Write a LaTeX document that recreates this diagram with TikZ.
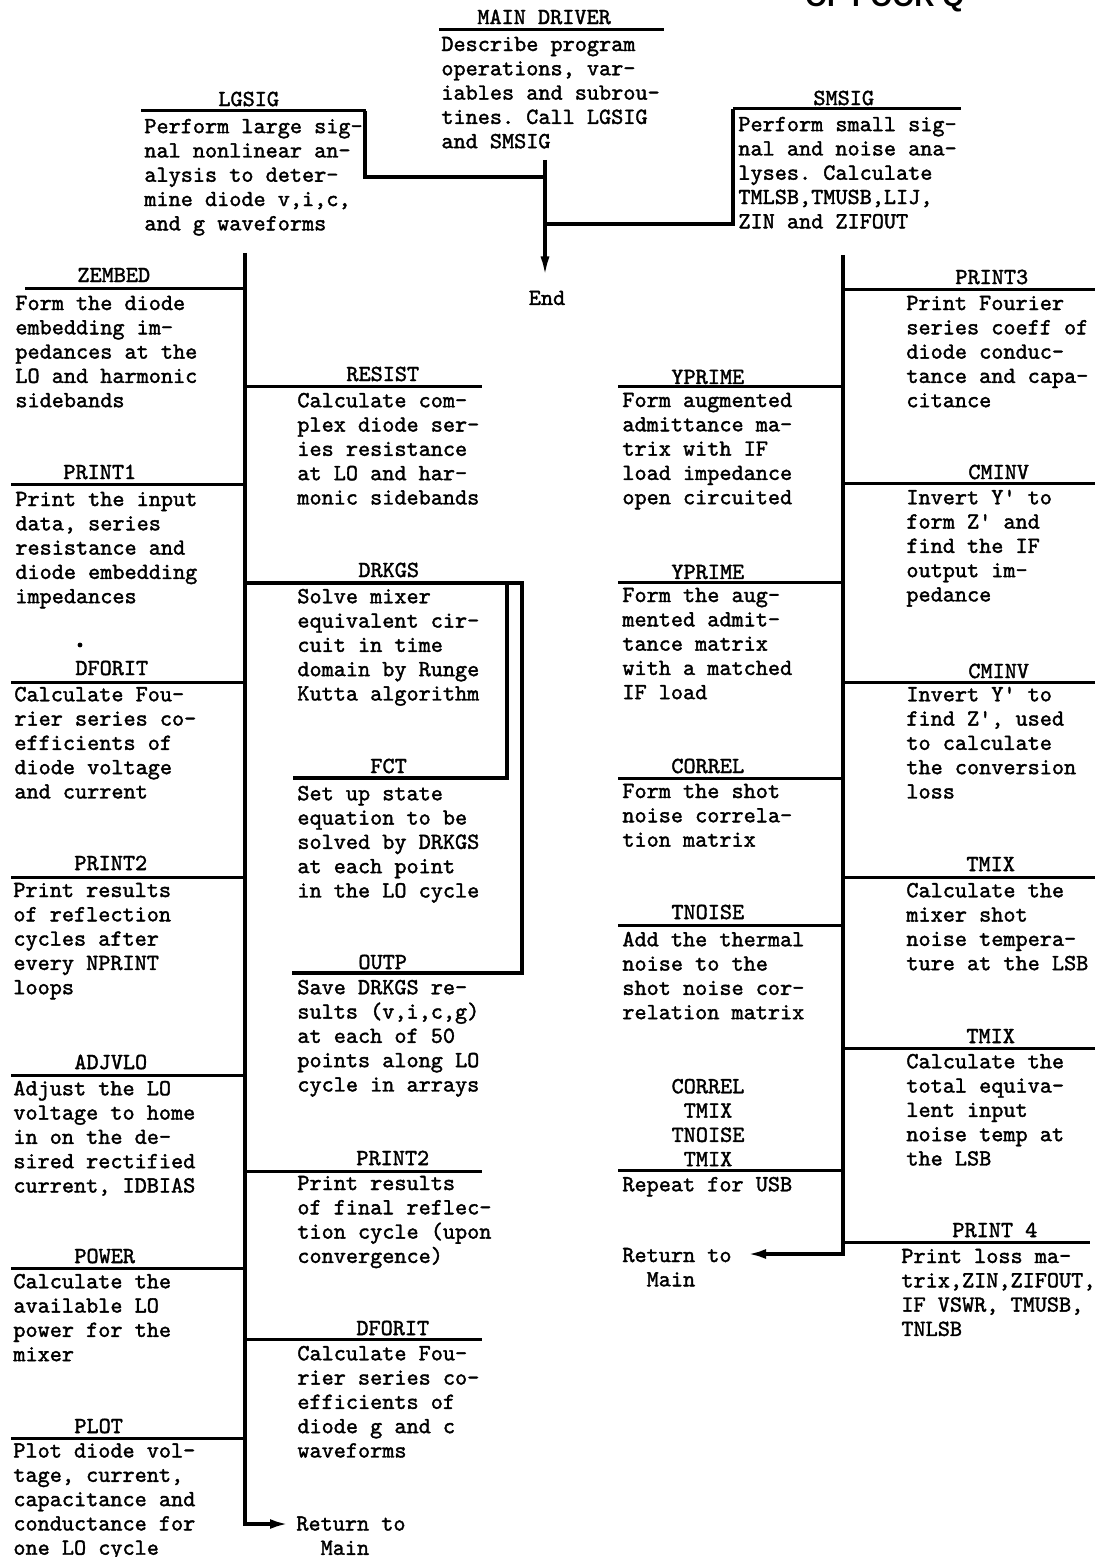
\documentclass[tikz,border=0pt]{standalone}
\usepackage{fontspec}
\setmonofont{lmmono10-regular.otf}[FakeBold=1.6]
\setsansfont{Liberation Sans}
\usetikzlibrary{arrows.meta}
\begin{document}
\begin{tikzpicture}[x=0.5pt,y=-0.5pt,
  tw/.style={font={\ttfamily\fontsize{11.55pt}{12.15pt}\selectfont}},
  body/.style={tw,anchor=north west,inner sep=0pt,align=left},
  head/.style={tw,anchor=west,inner sep=0pt},
  rule/.style={line width=1.5pt},
  flow/.style={line width=1.7pt},
  tip/.style={-{Latex[length=9pt,width=5pt]}}
]
\useasboundingbox (0,0) rectangle (1095,1557);
\fill[white] (0,0) rectangle (1095,1557);

% stamp fragment at the top edge
\node[font={\sffamily\bfseries\fontsize{14pt}{14pt}\selectfont},anchor=base west,inner sep=0pt] (stamp) at (805,7) {OF POOR Q};

% ---------- main driver ----------
\node[head] (hMAIN) at (477,17) {MAIN DRIVER};
\draw[rule] (439,29.5) -- (664,29.5);
\node[body] (bMAIN) at (441,36.5) {Describe program\\operations, var-\\iables and subrou-\\tines. Call LGSIG\\and SMSIG};

\node[head] (hLGSIG) at (218,99) {LGSIG};
\draw[rule] (141,111) -- (366,111);
\node[body] (bLGSIG) at (144,118.5) {Perform large sig-\\nal nonlinear an-\\alysis to deter-\\mine diode v,i,c,\\and g waveforms};

\node[head] (hSMSIG) at (813,98) {SMSIG};
\draw[rule] (733,109) -- (961,109);
\node[body] (bSMSIG) at (738,116.5) {Perform small sig-\\nal and noise ana-\\lyses. Calculate\\TMLSB,TMUSB,LIJ,\\ZIN and ZIFOUT};

\coordinate (mtop) at (545,160);
\coordinate (mj1) at (545,177);
\coordinate (mj2) at (545,224);
\coordinate (lgR) at (365,111);
\coordinate (smL) at (733,109);
\node[tw,inner sep=0pt] (end) at (547,298) {End};
\draw[flow,-{Latex[length=10pt,width=4.5pt]},shorten >=7pt] (mtop) -- (mtop |- end.north);
\draw[flow] (lgR) |- (mj1);
\draw[flow] (smL) |- (mj2);

% ---------- left column (LGSIG subroutines) ----------
\coordinate (ltop) at (245,253);
\coordinate (lbot) at (245,1524);
\coordinate (larr) at (288,1524);
\draw[flow,tip] (ltop) -- (lbot) -- (larr);
\node[body] (ret1) at (296,1516) {Return to\\\phantom{Re}Main};

\node[head] (hZEMBED) at (77,275) {ZEMBED};
\draw[rule] (25,288) -- (245,288);
\node[body] (bZEMBED) at (15,295.5) {Form the diode\\embedding im-\\pedances at the\\LO and harmonic\\sidebands};

\node[head] (hPRINT1) at (63,472) {PRINT1};
\draw[rule] (11,484) -- (245,484);
\node[body] (bPRINT1) at (15,491.5) {Print the input\\data, series\\resistance and\\diode embedding\\impedances};

\fill (80,645) circle (2.4);

\node[head] (hDFORIT) at (75,668) {DFORIT};
\draw[rule] (11,682) -- (245,682);
\node[body] (bDFORIT) at (14,686.5) {Calculate Fou-\\rier series co-\\efficients of\\diode voltage\\and current};

\node[head] (hPRINT2) at (74,863) {PRINT2};
\draw[rule] (11,877) -- (245,877);
\node[body] (bPRINT2) at (13,882.5) {Print results\\of reflection\\cycles after\\every NPRINT\\loops};

\node[head] (hADJVLO) at (74,1062) {ADJVLO};
\draw[rule] (11,1075) -- (245,1075);
\node[body] (bADJVLO) at (13,1080.5) {Adjust the LO\\voltage to home\\in on the de-\\sired rectified\\current, IDBIAS};

\node[head] (hPOWER) at (74,1256) {POWER};
\draw[rule] (11,1268) -- (245,1268);
\node[body] (bPOWER) at (13,1273.5) {Calculate the\\available LO\\power for the\\mixer};

\node[head] (hPLOT) at (74,1426) {PLOT};
\draw[rule] (11,1438) -- (245,1438);
\node[body] (bPLOT) at (13,1443) {Plot diode vol-\\tage, current,\\capacitance and\\conductance for\\one LO cycle};

% ---------- middle column ----------
\node[head] (hRESIST) at (346,374) {RESIST};
\draw[rule] (245,386) -- (482,386);
\node[body] (bRESIST) at (297,392.5) {Calculate com-\\plex diode ser-\\ies resistance\\at LO and har-\\monic sidebands};

\node[head] (hDRKGS) at (358,570) {DRKGS};
\coordinate (dk0) at (245,583);
\coordinate (dk1) at (522,583);
\coordinate (dk2) at (507,583);
\coordinate (fctL) at (293,778);
\coordinate (outL) at (292,973);
\draw[flow] (dk0) -- (dk1) -- (522,973) -- (outL);
\draw[flow] (dk2) -- (507,778) -- (fctL);
\node[body] (bDRKGS) at (297,588.5) {Solve mixer\\equivalent cir-\\cuit in time\\domain by Runge\\Kutta algorithm};

\node[head] (hFCT) at (370,766) {FCT};
\node[body] (bFCT) at (297,785.5) {Set up state\\equation to be\\solved by DRKGS\\at each point\\in the LO cycle};

\node[head] (hOUTP) at (358,962) {OUTP};
\node[body] (bOUTP) at (297,979.5) {Save DRKGS re-\\sults (v,i,c,g)\\at each of 50\\points along LO\\cycle in arrays};

\node[head] (hPRINT2m) at (356,1158) {PRINT2};
\draw[rule] (245,1171) -- (482,1171);
\node[body] (bPRINT2m) at (297,1175.5) {Print results\\of final reflec-\\tion cycle (upon\\convergence)};

\node[head] (hDFORITm) at (356,1328) {DFORIT};
\draw[rule] (245,1339) -- (482,1339);
\node[body] (bDFORITm) at (297,1345.5) {Calculate Fou-\\rier series co-\\efficients of\\diode g and c\\waveforms};

% ---------- right side (SMSIG subroutines) ----------
\coordinate (rtop) at (843,255);
\coordinate (rbot) at (843,1254);
\coordinate (rarr) at (748,1254);
\draw[flow,tip] (rtop) -- (rbot) -- (rarr);
\node[body] (ret2) at (622,1247.5) {Return to\\\phantom{Re}Main};

\node[head] (hPRINT3) at (955,277) {PRINT3};
\draw[rule] (843,289) -- (1095,289);
\node[body] (bPRINT3) at (906,295.5) {Print Fourier\\series coeff of\\diode conduc-\\tance and capa-\\citance};

\node[head] (hYPRIME) at (671,377) {YPRIME};
\draw[rule] (618,386) -- (843,386);
\node[body] (bYPRIME) at (622,392.5) {Form augmented\\admittance ma-\\trix with IF\\load impedance\\open circuited};

\node[head] (hCMINV) at (968,472) {CMINV};
\draw[rule] (843,483) -- (1095,483);
\node[body] (bCMINV) at (906,489.5) {Invert Y' to\\form Z' and\\find the IF\\output im-\\pedance};

\node[head] (hYPRIME2) at (671,572) {YPRIME};
\draw[rule] (618,582) -- (843,582);
\node[body] (bYPRIME2) at (622,587.5) {Form the aug-\\mented admit-\\tance matrix\\with a matched\\IF load};

\node[head] (hCMINV2) at (968,671) {CMINV};
\draw[rule] (843,682) -- (1095,682);
\node[body] (bCMINV2) at (906,686.5) {Invert Y' to\\find Z', used\\to calculate\\the conversion\\loss};

\node[head] (hCORREL) at (671,766) {CORREL};
\draw[rule] (618,778) -- (843,778);
\node[body] (bCORREL) at (622,783.5) {Form the shot\\noise correla-\\tion matrix};

\node[head] (hTMIX) at (966,864) {TMIX};
\draw[rule] (843,877) -- (1095,877);
\node[body] (bTMIX) at (906,882.5) {Calculate the\\mixer shot\\noise tempera-\\ture at the LSB};

\node[head] (hTNOISE) at (671,912) {TNOISE};
\draw[rule] (618,925) -- (843,925);
\node[body] (bTNOISE) at (622,931.5) {Add the thermal\\noise to the\\shot noise cor-\\relation matrix};

\node[head] (hTMIX2) at (966,1036) {TMIX};
\draw[rule] (843,1048) -- (1095,1048);
\node[body] (bTMIX2) at (906,1053.5) {Calculate the\\total equiva-\\lent input\\noise temp at\\the LSB};

\node[tw,anchor=north,inner sep=0pt,align=center] (stack) at (708,1078.5) {CORREL\\TMIX\\TNOISE\\TMIX};
\draw[rule] (618,1170) -- (843,1170);
\node[body] (bRepeat) at (622,1176.5) {Repeat for USB};

\node[head] (hPRINT4) at (952,1230) {PRINT 4};
\draw[rule] (843,1242) -- (1090,1242);
\node[body] (bPRINT4) at (901,1248.5) {Print loss ma-\\trix,ZIN,ZIFOUT,\\IF VSWR, TMUSB,\\TNLSB};
\end{tikzpicture}
\end{document}
